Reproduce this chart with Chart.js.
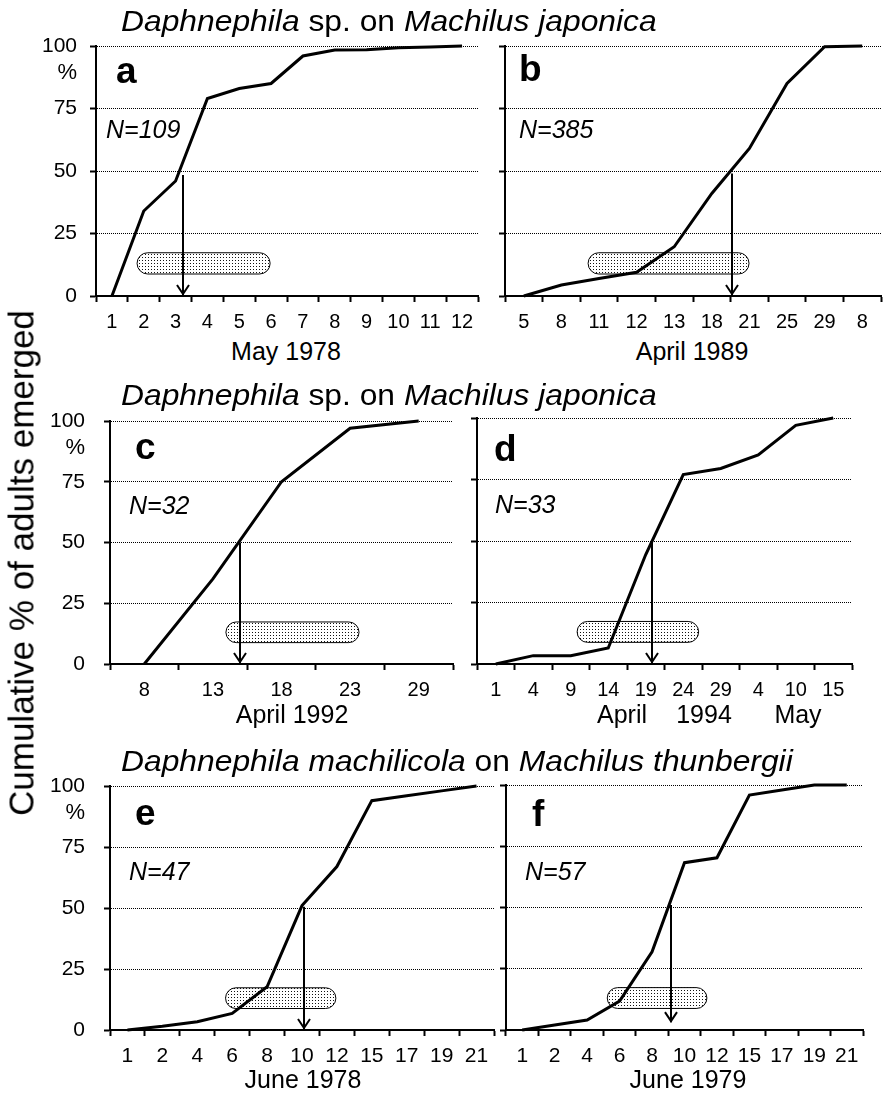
<!DOCTYPE html>
<html>
<head>
<meta charset="utf-8">
<script src="https://cdn.jsdelivr.net/npm/chart.js@4.4.0/dist/chart.umd.min.js"></script>
<style>
  body { margin: 0; background: #fff; }
  #fig { position: relative; width: 884px; height: 1093px; overflow: hidden; font-family: "Liberation Sans", Arial, sans-serif; color: #000; }
  #fig canvas { position: absolute; }
  .t { position: absolute; white-space: nowrap; line-height: 1; z-index: 5; }
  .row { font-size: 30px; transform-origin: 0 0; transform: scaleX(1.06); }
  .let { font-size: 37px; font-weight: bold; }
  .n { font-size: 25px; font-style: italic; }
  .xt { font-size: 25px; transform: translateX(-50%); }
  .ylab { font-size: 35px; transform: translate(-50%, -50%) rotate(-90deg); }
</style>
</head>
<body>
<div id="fig">
  <div class="t row" style="left:121px; top:6px"><i>Daphnephila</i> sp. on <i>Machilus japonica</i></div>
  <div class="t row" style="left:121px; top:380px"><i>Daphnephila</i> sp. on <i>Machilus japonica</i></div>
  <div class="t row" style="left:121px; top:746px"><i>Daphnephila machilicola</i> on <i>Machilus thunbergii</i></div>

  <div class="t ylab" style="left:21px; top:563px">Cumulative % of adults emerged</div>

  <div class="t let" style="left:116px; top:52px">a</div>
  <div class="t let" style="left:519px; top:50px">b</div>
  <div class="t let" style="left:135px; top:428px">c</div>
  <div class="t let" style="left:494px; top:430px">d</div>
  <div class="t let" style="left:135px; top:794px">e</div>
  <div class="t let" style="left:532px; top:795px">f</div>

  <div class="t n" style="left:106px; top:117px">N=109</div>
  <div class="t n" style="left:519px; top:117px">N=385</div>
  <div class="t n" style="left:129px; top:493px">N=32</div>
  <div class="t n" style="left:495px; top:492px">N=33</div>
  <div class="t n" style="left:129px; top:859px">N=47</div>
  <div class="t n" style="left:525px; top:859px">N=57</div>

  <div class="t xt" style="left:286px; top:339px">May 1978</div>
  <div class="t xt" style="left:692px; top:339px">April 1989</div>
  <div class="t xt" style="left:292px; top:702px">April 1992</div>
  <div class="t xt" style="left:622px; top:702px">April</div>
  <div class="t xt" style="left:704px; top:702px">1994</div>
  <div class="t xt" style="left:798px; top:702px">May</div>
  <div class="t xt" style="left:303px; top:1067px">June 1978</div>
  <div class="t xt" style="left:688px; top:1067px">June 1979</div>
</div>
<script>
// days on the x axis, cumulative % emerged on the y axis
const labelsA = ['1', '2', '3', '4', '5', '6', '7', '8', '9', '10', '11', '12'];
const valuesA = [0, 34, 46, 79, 83, 85, 96, 98.4, 98.5, 99.3, 99.6, 100];
const labelsB = ['5', '8', '11', '12', '13', '18', '21', '25', '29', '8'];
const valuesB = [0, 4.4, 7, 9.5, 19.7, 41, 59, 85, 99.7, 100];
const labelsC = ['8', '13', '18', '23', '29'];
const valuesC = [0, 35, 75, 97, 100];
const labelsD = ['1', '4', '9', '14', '19', '24', '29', '4', '10', '15'];
const valuesD = [0, 3.4, 3.4, 6.5, 44.5, 77, 79.5, 85, 97, 100];
const labelsE = ['1', '2', '4', '6', '8', '10', '12', '15', '17', '19', '21'];
const valuesE = [0, 1.5, 3.4, 6.8, 17.7, 51, 67, 94, 96, 98, 100];
const labelsF = ['1', '2', '4', '6', '8', '10', '12', '15', '17', '19', '21'];
const valuesF = [0, 2, 4.1, 11.8, 31.9, 68.3, 70.3, 95.9, 98, 100, 100];

// shaded period (x range in category positions) and median arrow [x, from %, to %]
const ovalA = [0.79, 4.97], arrowA = [2.22, 48.4, 0];
const ovalB = [1.71, 5.99], arrowB = [5.55, 49, 0];
const ovalC = [1.19, 3.13], arrowC = [1.40, 50, 0];
const ovalD = [2.17, 5.41], arrowD = [4.17, 50, 0];
const ovalE = [2.81, 5.97], arrowE = [5.07, 50.5, 0];
const ovalF = [2.62, 5.69], arrowF = [4.59, 51, 2.8];
const ovalBand = [8.8, 17.3];

const yMax = 100, yStep = 25;

const FONT = '"Liberation Sans", Arial, sans-serif';
const fig = document.getElementById('fig');
const PADTOP = 36;

// plot area of each panel on the page
const layout = {
  a: { L: 96, R: 478, T: 46, B: 296, yPad: 13 },
  b: { L: 505, R: 881, T: 46, B: 296 },
  c: { L: 110, R: 453, T: 421, B: 664, yPad: 19 },
  d: { L: 477, R: 852, T: 418, B: 664 },
  e: { L: 110, R: 494, T: 786, B: 1030, yPad: 19 },
  f: { L: 506, R: 863, T: 785, B: 1030 }
};

const dots = document.createElement('canvas');
dots.width = 3; dots.height = 3;
const dc = dots.getContext('2d');
dc.fillStyle = '#fff'; dc.fillRect(0, 0, 3, 3);
dc.fillStyle = '#111'; dc.fillRect(1, 1, 1, 1);

const marks = {
  id: 'marks',
  beforeDatasetsDraw(chart, args, o) {
    const { ctx, scales: { x, y } } = chart;
    const x1 = x.getPixelForValue(o.oval[0]), x2 = x.getPixelForValue(o.oval[1]);
    const y1 = y.getPixelForValue(ovalBand[1]), y2 = y.getPixelForValue(ovalBand[0]);
    const r = (y2 - y1) / 2;
    ctx.save();
    ctx.beginPath();
    ctx.moveTo(x1 + r, y1);
    ctx.lineTo(x2 - r, y1);
    ctx.arc(x2 - r, y1 + r, r, -Math.PI / 2, Math.PI / 2);
    ctx.lineTo(x1 + r, y2);
    ctx.arc(x1 + r, y1 + r, r, Math.PI / 2, Math.PI * 1.5);
    ctx.closePath();
    ctx.fillStyle = ctx.createPattern(dots, 'repeat');
    ctx.fill();
    ctx.lineWidth = 1;
    ctx.strokeStyle = '#000';
    ctx.stroke();
    ctx.restore();
  },
  afterDatasetsDraw(chart, args, o) {
    const { ctx, scales: { x, y } } = chart;
    const px = Math.round(x.getPixelForValue(o.arrow[0]));
    const y1 = y.getPixelForValue(o.arrow[1]), y2 = y.getPixelForValue(o.arrow[2]);
    ctx.save();
    ctx.strokeStyle = '#000';
    ctx.lineWidth = 2;
    ctx.beginPath();
    ctx.moveTo(px, y1);
    ctx.lineTo(px, y2 - 1);
    ctx.stroke();
    ctx.beginPath();
    ctx.moveTo(px - 6, y2 - 11);
    ctx.lineTo(px, y2 - 2);
    ctx.lineTo(px + 6, y2 - 11);
    ctx.stroke();
    if (o.pct) {
      ctx.fillStyle = '#000';
      ctx.font = '22px ' + FONT;
      ctx.textAlign = 'right';
      ctx.textBaseline = 'middle';
      ctx.fillText('%', y.right - 6 - o.pad, y.getPixelForValue(yMax) + 27);
    }
    ctx.restore();
  }
};

function panel(key, labels, values, oval, arrow, showY, tickSize) {
  const g = layout[key];
  const cv = document.createElement('canvas');
  const left = g.L - 90, top = g.T - PADTOP;
  cv.width = g.R + 6 - left;
  cv.height = g.B + 40 - top;
  cv.style.left = left + 'px';
  cv.style.top = top + 'px';
  fig.appendChild(cv);
  new Chart(cv, {
    type: 'line',
    data: {
      labels: labels,
      datasets: [{ data: values, borderColor: '#000', borderWidth: 3, pointRadius: 0, tension: 0, fill: false, clip: false }]
    },
    options: {
      responsive: false,
      animation: false,
      devicePixelRatio: 1,
      layout: { padding: { top: PADTOP, right: 6, left: 0, bottom: 0 } },
      plugins: {
        legend: { display: false },
        tooltip: { enabled: false },
        marks: { oval: oval, arrow: arrow, pct: showY, pad: g.yPad || 10 }
      },
      scales: {
        x: {
          type: 'category',
          offset: true,
          afterFit: s => { s.height = 40; },
          grid: { offset: true, drawOnChartArea: false, drawTicks: true, tickLength: 6, tickWidth: 2, tickColor: '#000' },
          border: { color: '#000', width: 2 },
          ticks: { color: '#000', font: { family: FONT, size: tickSize }, padding: 8, maxRotation: 0, autoSkip: false }
        },
        y: {
          min: 0,
          max: yMax,
          afterFit: s => { s.width = 90; },
          ticks: { display: showY, stepSize: yStep, color: '#000', font: { family: FONT, size: 21 }, padding: g.yPad || 10 },
          grid: { color: '#000', lineWidth: 1, drawTicks: true, tickLength: 6, tickWidth: 2, tickColor: '#000', tickBorderDash: [] },
          border: { color: '#000', width: 2, dash: [1, 1] }
        }
      }
    },
    plugins: [marks]
  });
}

panel('a', labelsA, valuesA, ovalA, arrowA, true, 20);
panel('b', labelsB, valuesB, ovalB, arrowB, false, 20);
panel('c', labelsC, valuesC, ovalC, arrowC, true, 20);
panel('d', labelsD, valuesD, ovalD, arrowD, false, 20);
panel('e', labelsE, valuesE, ovalE, arrowE, true, 21);
panel('f', labelsF, valuesF, ovalF, arrowF, false, 21);
</script>
</body>
</html>
